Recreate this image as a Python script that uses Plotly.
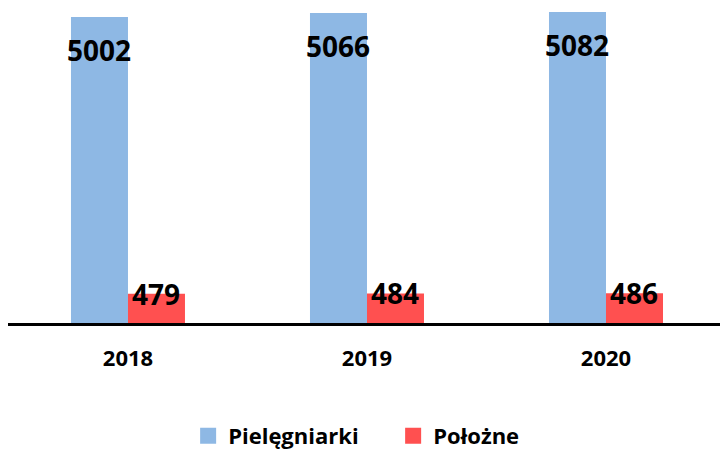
import plotly.graph_objects as go

years = ["2018", "2019", "2020"]
pielegniarki = [5002, 5066, 5082]
polozne = [479, 484, 486]
series_names = ["Pielęgniarki", "Położne"]
colors = ["#8EB8E4", "#FF5050"]

FONT = "Open Sans"

fig = go.Figure()
fig.add_trace(go.Bar(x=years, y=pielegniarki, name=series_names[0],
                     marker=dict(color=colors[0], line=dict(width=0)), showlegend=False))
fig.add_trace(go.Bar(x=years, y=polozne, name=series_names[1],
                     marker=dict(color=colors[1], line=dict(width=0)), showlegend=False))

# legend entries
for name, c in zip(series_names, colors):
    fig.add_trace(go.Scatter(x=[None], y=[None], mode="markers", name=f"<b>{name}</b>",
                             marker=dict(symbol="square", size=16, color=c)))

# data labels
for i, yr in enumerate(years):
    fig.add_annotation(x=i, y=pielegniarki[i], text=f"<b>{pielegniarki[i]}</b>",
                       showarrow=False, xshift=-28.5, yshift=-33, yanchor="middle",
                       font=dict(family=FONT, size=28, color="black"))
    fig.add_annotation(x=i, y=polozne[i], text=f"<b>{polozne[i]}</b>",
                       showarrow=False, xshift=28.5, yshift=0, yanchor="middle",
                       font=dict(family=FONT, size=28, color="black"))

fig.update_layout(
    width=720, height=453,
    margin=dict(l=8, r=0, t=0, b=130, autoexpand=False),
    paper_bgcolor="white", plot_bgcolor="white",
    barmode="group", bargap=0.523, bargroupgap=0,
    font=dict(family=FONT, color="black"),
    xaxis=dict(type="category", range=[-0.502, 2.477], showline=True, linecolor="black",
               linewidth=3, ticks="", showgrid=False, ticklabelstandoff=14,
               tickfont=dict(family=FONT, size=22, color="black"),
               tickprefix="<b>", ticksuffix="</b>", fixedrange=True),
    yaxis=dict(range=[0, 5280], visible=False, showgrid=False, fixedrange=True),
    legend=dict(orientation="h", x=0.253, xanchor="left", y=-0.35, yanchor="middle",
                font=dict(family=FONT, size=22, color="black"),
                itemwidth=30, tracegroupgap=0, entrywidth=160),
    showlegend=True,
)

fig.write_html("out.html", config={"displayModeBar": False},
               post_script="document.body.style.margin='0';")
